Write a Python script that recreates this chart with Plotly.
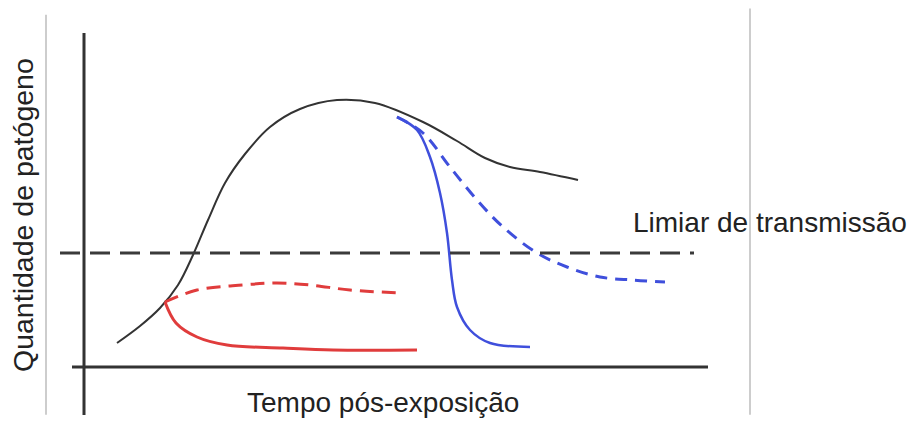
import plotly.graph_objects as go

# Schematic: pathogen quantity over time after exposure
time_base = [117, 140, 160, 178, 193, 208, 225, 245, 270, 300, 337, 375, 423, 457, 485, 510, 540, 578]
amount_base = [78, 95, 113, 136, 166, 201, 238, 267, 294, 312, 321, 318, 299, 280, 263, 254, 249, 241]

time_blue = [397, 417, 430, 440, 447, 452, 457, 470, 490, 530]
amount_blue = [304, 291, 264, 228, 188, 141, 114, 91, 78, 74]

time_blue_dash = [397, 423, 450, 477, 503, 537, 567, 600, 633, 665]
amount_blue_dash = [304, 288, 254, 221, 194, 168, 154, 144, 141, 139]

time_red = [165, 176, 197, 227, 283, 333, 417]
amount_red = [119, 98, 84, 76, 73, 71, 71]

time_red_dash = [165, 197, 243, 277, 310, 350, 400]
amount_red_dash = [119, 131, 136, 138, 136, 131, 128]

threshold = 168
threshold_span = [60, 694]
x_axis_level = 54
x_axis_span = [72, 708]
y_axis_pos = 84
y_axis_span = [6, 388]

BLACK = "#333333"
BLUE = "#3f4fdc"
RED = "#e03c3c"

fig = go.Figure()

def curve(x, y, color, width, dash="solid", smoothing=1):
    fig.add_trace(go.Scatter(x=x, y=y, mode="lines",
                             line=dict(color=color, width=width, dash=dash,
                                       shape="spline", smoothing=smoothing),
                             hoverinfo="skip", showlegend=False))

curve(time_base, amount_base, BLACK, 2)
curve(time_blue, amount_blue, BLUE, 2.5)
curve(time_blue_dash, amount_blue_dash, BLUE, 3, "12px,8px")
curve(time_red, amount_red, RED, 3)
curve(time_red_dash, amount_red_dash, RED, 3, "14px,8px")

# threshold line
fig.add_trace(go.Scatter(x=threshold_span, y=[threshold, threshold], mode="lines",
                         line=dict(color="#3a3a3a", width=3, dash="20px,10px"),
                         hoverinfo="skip", showlegend=False))

# hand-drawn axes
fig.add_shape(type="line", x0=x_axis_span[0], x1=x_axis_span[1], y0=x_axis_level, y1=x_axis_level,
              line=dict(color=BLACK, width=3))
fig.add_shape(type="line", x0=y_axis_pos, x1=y_axis_pos, y0=y_axis_span[0], y1=y_axis_span[1],
              line=dict(color=BLACK, width=3))

# grey frame edges from the original slide
fig.add_shape(type="line", xref="paper", yref="paper", x0=46/914, x1=46/914, y0=0.015, y1=0.965,
              line=dict(color="#bdbdbd", width=1.5))
fig.add_shape(type="line", xref="paper", yref="paper", x0=750/914, x1=750/914, y0=0.015, y1=0.98,
              line=dict(color="#bdbdbd", width=1.5))

font = dict(family="Liberation Sans, Arial, sans-serif", color="#222222", size=28)
fig.add_annotation(x=383, y=19, text="Tempo pós-exposição", showarrow=False,
                   font=font, xanchor="center", yanchor="middle")
fig.add_annotation(x=770, y=199, text="Limiar de transmissão", showarrow=False,
                   font=font, xanchor="center", yanchor="middle")
fig.add_annotation(x=23, y=206, text="Quantidade de patógeno", showarrow=False,
                   font=dict(font, size=28.5), textangle=-90, xanchor="center", yanchor="middle")

fig.update_layout(width=914, height=421, margin=dict(l=0, r=0, t=0, b=0),
                  paper_bgcolor="white", plot_bgcolor="white",
                  xaxis=dict(range=[0, 914], visible=False, fixedrange=True),
                  yaxis=dict(range=[0, 421], visible=False, fixedrange=True))

fig.write_html("out.html", config={"displayModeBar": False},
               post_script="document.body.style.margin='0';document.body.style.overflow='hidden';")
